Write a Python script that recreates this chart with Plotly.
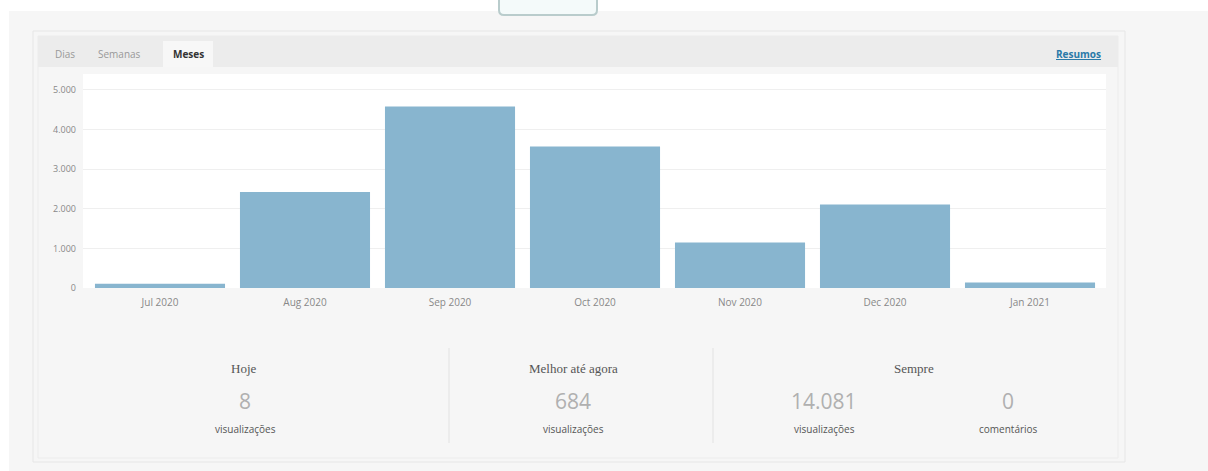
import plotly.graph_objects as go

months = ["Jul 2020", "Aug 2020", "Sep 2020", "Oct 2020", "Nov 2020", "Dec 2020", "Jan 2021"]
views = [110, 2420, 4580, 3570, 1150, 2110, 141]
y_ticks = [0, 1000, 2000, 3000, 4000, 5000]
tabs = ["Dias", "Semanas", "Meses"]
stat_titles = ["Hoje", "Melhor até agora", "Sempre"]
stat_values = ["8", "684", "14.081", "0"]
stat_units = ["visualizações", "visualizações", "visualizações", "comentários"]

W, H = 1208, 471
L, R, T, B = 83, 1106, 74, 288


def px(x):
    return (x - L) / (R - L)


def py(y):
    return (B - y) / (B - T)


fig = go.Figure(go.Bar(x=months, y=views, marker=dict(color="#88b5cf", line=dict(width=0)),
                       hoverinfo="x+y"))

shapes = []
# page white strips
shapes.append(dict(type="rect", xref="paper", yref="paper", x0=px(0), x1=px(W), y0=py(0), y1=py(11),
                   fillcolor="white", line=dict(width=0), layer="below"))
shapes.append(dict(type="rect", xref="paper", yref="paper", x0=px(0), x1=px(9), y0=py(0), y1=py(H),
                   fillcolor="white", line=dict(width=0), layer="below"))
# panel
shapes.append(dict(type="rect", xref="paper", yref="paper", x0=px(33), x1=px(1125), y0=py(31), y1=py(462),
                   fillcolor="#f6f6f6", line=dict(color="#e6e6e6", width=1), layer="below"))
shapes.append(dict(type="rect", xref="paper", yref="paper", x0=px(38), x1=px(1118), y0=py(36), y1=py(458),
                   fillcolor="rgba(0,0,0,0)", line=dict(color="#ececec", width=1), layer="below"))
# tab bar
shapes.append(dict(type="rect", xref="paper", yref="paper", x0=px(38), x1=px(1118), y0=py(36), y1=py(67),
                   fillcolor="#ececec", line=dict(width=0), layer="below"))
shapes.append(dict(type="rect", xref="paper", yref="paper", x0=px(163), x1=px(213), y0=py(41), y1=py(67),
                   fillcolor="#f7f7f7", line=dict(width=0), layer="below"))
# white plot area
shapes.append(dict(type="rect", xref="paper", yref="paper", x0=0, x1=1, y0=0, y1=1,
                   fillcolor="white", line=dict(width=0), layer="below"))
# top button
shapes.append(dict(type="path", xref="paper", yref="paper",
                   path=f"M {px(499)},{py(-2)} L {px(499)},{py(10)} Q {px(499)},{py(15)} {px(504)},{py(15)} "
                        f"L {px(592)},{py(15)} Q {px(597)},{py(15)} {px(597)},{py(10)} L {px(597)},{py(-2)}",
                   fillcolor="#f4fafa", line=dict(color="#b9cccc", width=2), layer="above"))
# stats separators
for sx in (449, 713):
    shapes.append(dict(type="line", xref="paper", yref="paper", x0=px(sx), x1=px(sx), y0=py(348), y1=py(443),
                       line=dict(color="#e2e2e2", width=1), layer="below"))

ann = []
tab_x = [65, 119, 188]
for i, t in enumerate(tabs):
    sel = t == "Meses"
    ann.append(dict(x=px(tab_x[i]), y=py(54), xref="paper", yref="paper", text=f"<b>{t}</b>" if sel else t,
                    showarrow=False, xanchor="center", yanchor="middle",
                    font=dict(family="Open Sans", size=10, color="#333" if sel else "#999")))
ann.append(dict(x=px(1078), y=py(54), xref="paper", yref="paper", text="<b><u>Resumos</u></b>",
                showarrow=False, xanchor="center", yanchor="middle",
                font=dict(family="Open Sans", size=10, color="#2a7aa8")))

title_x = [244, 573, 914]
for i, t in enumerate(stat_titles):
    ann.append(dict(x=px(title_x[i]), y=py(368), xref="paper", yref="paper", text=t, showarrow=False,
                    xanchor="center", yanchor="middle",
                    font=dict(family="Liberation Serif", size=13, color="#555")))
val_x = [245, 573, 824, 1008]
for i, v in enumerate(stat_values):
    ann.append(dict(x=px(val_x[i]), y=py(401), xref="paper", yref="paper", text=v, showarrow=False,
                    xanchor="center", yanchor="middle",
                    font=dict(family="Open Sans", size=21, color="#b0b0b0")))
    ann.append(dict(x=px(val_x[i]), y=py(429), xref="paper", yref="paper", text=stat_units[i], showarrow=False,
                    xanchor="center", yanchor="middle",
                    font=dict(family="Open Sans", size=10, color="#555")))

fig.update_layout(
    width=W, height=H,
    margin=dict(l=L, r=W - R, t=T, b=H - B, pad=0),
    paper_bgcolor="#f6f6f6", plot_bgcolor="white",
    separators=",.",
    bargap=0.103,
    showlegend=False,
    shapes=shapes, annotations=ann,
    font=dict(family="Open Sans", size=10, color="#888"),
    xaxis=dict(range=[-0.531, 6.524], showgrid=False, zeroline=False, showline=False, ticks="",
               tickfont=dict(family="Open Sans", size=10, color="#888"), ticklabelstandoff=7,
               fixedrange=True),
    yaxis=dict(range=[0, 5400], tickvals=y_ticks, tickformat=",d", showgrid=True, gridcolor="#efefef",
               gridwidth=1, zeroline=False, showline=False, ticks="",
               tickfont=dict(family="Open Sans", size=9, color="#888"), ticklabelstandoff=6,
               fixedrange=True),
)

fig.write_html("out.html", config={"displayModeBar": False},
               post_script="document.body.style.margin='0';")
